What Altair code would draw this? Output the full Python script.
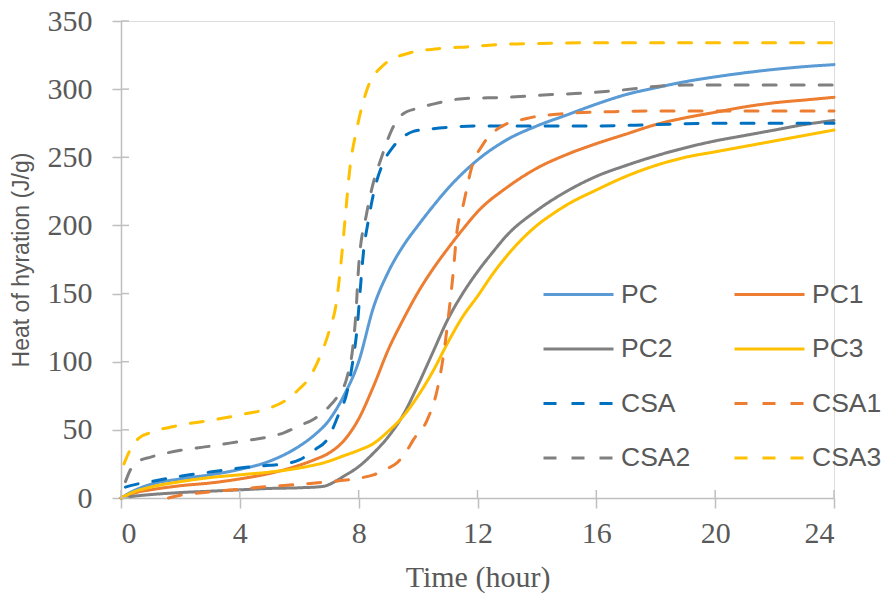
import altair as alt
import pandas as pd

# ---- data ----
series = ["PC", "PC1", "PC2", "PC3", "CSA", "CSA1", "CSA2", "CSA3"]
colors = ["#5B9BD5", "#ED7D31", "#808080", "#FFC000", "#0070C0", "#ED7D31", "#808080", "#FFC000"]
# legend fills column by column: order so that rows read PC/PC1, PC2/PC3, ...
legend_order = ["PC", "PC2", "CSA", "CSA2", "PC1", "PC3", "CSA1", "CSA3"]

pc_t = [0, 0.5, 1, 2, 3, 4, 5, 6, 6.5, 7, 7.5, 8, 8.5, 9, 9.5, 10, 10.5, 11, 12, 13, 14, 15, 16, 17, 18, 19, 20, 21, 22, 23, 24]
pc_v = [0, 6, 10, 14, 17, 21, 27, 38, 46, 57, 75, 100, 140, 166, 185, 200, 214, 227, 248, 263, 273, 281, 289, 296, 301, 305.5, 309, 312, 314.5, 316.5, 318]

pc1_t = [0, 0.5, 1, 2, 3, 4, 5, 6, 6.5, 7, 7.5, 8, 8.5, 9, 9.5, 10, 10.5, 11, 11.5, 12, 13, 14, 15, 16, 17, 18, 19, 20, 21, 22, 23, 24]
pc1_v = [0, 4, 6, 9, 11, 14, 18, 24, 28, 33, 42, 58, 82, 109, 131, 151, 168, 183, 197, 210, 228, 242, 252, 260, 267, 274, 279, 283, 287, 290, 292, 294]

pc2_t = [0, 0.5, 1, 2, 3, 4, 5, 6, 6.8, 7.2, 7.5, 8, 8.5, 9, 9.5, 10, 10.5, 11, 11.5, 12, 12.5, 13, 14, 15, 16, 17, 18, 19, 20, 21, 22, 23, 24]
pc2_v = [0, 1.5, 2.5, 4, 5, 6, 7, 7.5, 8.5, 12, 16, 23, 33, 45, 61, 83, 107, 131, 150, 166, 180, 193, 211, 225, 236, 244, 251, 257, 262, 266, 270, 274, 277]

pc3_t = [0, 0.5, 1, 2, 3, 4, 5, 6, 7, 7.5, 8, 8.5, 9, 9.5, 10, 10.5, 11, 11.5, 12, 12.5, 13, 13.5, 14, 14.5, 15, 16, 17, 18, 19, 20, 21, 22, 23, 24]
pc3_v = [0, 5, 8, 12, 15, 17, 19, 22, 27, 31, 35, 40, 49, 60, 75, 93, 114, 133, 148, 164, 178, 190, 200, 208, 215, 226, 236, 244, 250, 254, 258, 262, 266, 270]

csa_t = [0.15, 0.5, 1, 2, 3, 4, 5, 5.5, 6, 6.5, 7, 7.3, 7.6, 7.8, 7.95, 8.05, 8.16, 8.33, 8.55, 8.77, 9.17, 9.5, 9.84, 10.5, 11, 12, 14, 16, 18, 20, 22, 24]
csa_v = [8, 10, 12, 16, 19, 22, 24, 25, 28, 35, 45, 60, 77, 100, 125, 152, 180, 204, 228, 243, 258, 265, 269, 271, 272, 273, 273, 273, 274, 275, 275, 275]

csa1_t = [1.6, 2, 3, 4, 5, 6, 7, 8, 8.5, 9, 9.3, 9.6, 9.85, 10.3, 10.65, 10.85, 11.02, 11.19, 11.3, 11.53, 11.81, 12.2, 12.76, 13.66, 14.9, 16.6, 18, 20, 22, 24]
csa1_v = [0, 2, 4.5, 6.5, 8.5, 10, 12, 14.5, 17, 22, 26, 34, 43, 57, 80, 104, 133, 167, 194, 216, 243, 260, 272, 278.5, 282, 283.5, 284, 284, 284, 284]

csa2_t = [0.15, 0.3, 0.6, 1, 2, 3, 4, 5, 5.5, 6, 6.5, 7, 7.3, 7.6, 7.8, 7.9, 8, 8.27, 8.49, 8.77, 9.11, 9.5, 10, 10.5, 11.5, 13, 14.5, 15.5, 16.7, 18, 19, 24]
csa2_v = [12, 20, 27, 30, 35, 38, 41.5, 45, 48, 53, 58, 67, 75, 88, 110, 133, 170, 209, 231, 250, 270, 282, 286, 289, 293, 294, 296, 297, 299, 302, 303, 303]

csa3_t = [0.1, 0.3, 0.6, 1, 2, 3, 4, 5, 5.5, 6, 6.3, 6.7, 7.0, 7.26, 7.43, 7.54, 7.71, 7.93, 8.27, 8.83, 9.62, 10.86, 11.64, 13, 14, 16, 24]
csa3_v = [25, 35, 44, 48, 53.5, 57, 61, 66, 71, 80, 87, 104, 122, 145, 178, 204, 243, 270, 299, 317.5, 326, 330, 331, 333, 333.5, 334, 334]

x_ticks = [0, 4, 8, 12, 16, 20, 24]
y_ticks = [0, 50, 100, 150, 200, 250, 300, 350]

# ---- build table ----
times = [pc_t, pc1_t, pc2_t, pc3_t, csa_t, csa1_t, csa2_t, csa3_t]
vals = [pc_v, pc1_v, pc2_v, pc3_v, csa_v, csa1_v, csa2_v, csa3_v]
rows = []
for name, ts, vs in zip(series, times, vals):
    for t, v in zip(ts, vs):
        rows.append({"series": name, "time": t, "heat": v})
df = pd.DataFrame(rows)

color_of = dict(zip(series, colors))
dash_of = {s: ([1, 0] if s.startswith("PC") else [13, 15]) for s in series}
legend_colors = [color_of[s] for s in legend_order]
legend_dashes = [dash_of[s] for s in legend_order]

W, H = 713, 477
axis_col = "#BFBFBF"
text_col = "#595959"

x_scale = alt.Scale(domain=[0, 24], nice=False, zero=False)
y_scale = alt.Scale(domain=[0, 350], nice=False)

lines = alt.Chart(df).mark_line(strokeWidth=3, interpolate="monotone", strokeCap="round").encode(
    x=alt.X("time:Q", scale=x_scale,
            axis=alt.Axis(values=x_ticks, title="Time (hour)", grid=False,
                          domainColor=axis_col, domainWidth=1.5, tickColor=axis_col, tickWidth=1.5,
                          tickSize=10, labelPadding=10, labelFont="Liberation Serif", labelFontSize=30,
                          labelColor=text_col, titleFont="Liberation Serif", titleFontSize=30,
                          titleFontWeight="normal", titleColor=text_col, titlePadding=14)),
    y=alt.Y("heat:Q", scale=y_scale,
            axis=alt.Axis(values=y_ticks, title="Heat of hyration (J/g)", grid=False,
                          domainColor=axis_col, domainWidth=1.5, tickColor=axis_col, tickWidth=1.5,
                          tickSize=9, labelPadding=20, labelFont="Liberation Serif", labelFontSize=30,
                          labelColor=text_col, titleFont="Liberation Sans", titleFontSize=23,
                          titleFontWeight="normal", titleColor=text_col, titlePadding=14)),
    color=alt.Color("series:N", scale=alt.Scale(domain=legend_order, range=legend_colors),
                    legend=alt.Legend(title=None, orient="none", legendX=421, legendY=260,
                                      columns=2, symbolType="stroke", symbolSize=4900,
                                      symbolStrokeWidth=3, clipHeight=27, rowPadding=27.5,
                                      columnPadding=42, labelOffset=6, labelFont="Liberation Sans",
                                      labelFontSize=26.5, labelColor=text_col, padding=0)),
    strokeDash=alt.StrokeDash("series:N", scale=alt.Scale(domain=legend_order, range=legend_dashes), legend=None),
    detail="series:N",
)

ytick_df = pd.DataFrame({"v": y_ticks})
xtick_df = pd.DataFrame({"t": x_ticks})
ytick_in = alt.Chart(ytick_df).mark_rule(color=axis_col, strokeWidth=1.5).encode(
    y=alt.Y("v:Q", scale=y_scale), x=alt.value(0), x2=alt.value(8))
xtick_in = alt.Chart(xtick_df).mark_rule(color=axis_col, strokeWidth=1.5).encode(
    x=alt.X("t:Q", scale=x_scale), y=alt.value(H - 8), y2=alt.value(H))

chart = alt.layer(lines, ytick_in, xtick_in).properties(
    width=W, height=H,
    autosize=alt.AutoSizeParams(type="none"),
    padding={"left": 113, "top": 13, "right": 47, "bottom": 105},
).configure_view(stroke=None).configure(background="white")

chart.save("out.html", embed_options={"renderer": "svg", "actions": False})
